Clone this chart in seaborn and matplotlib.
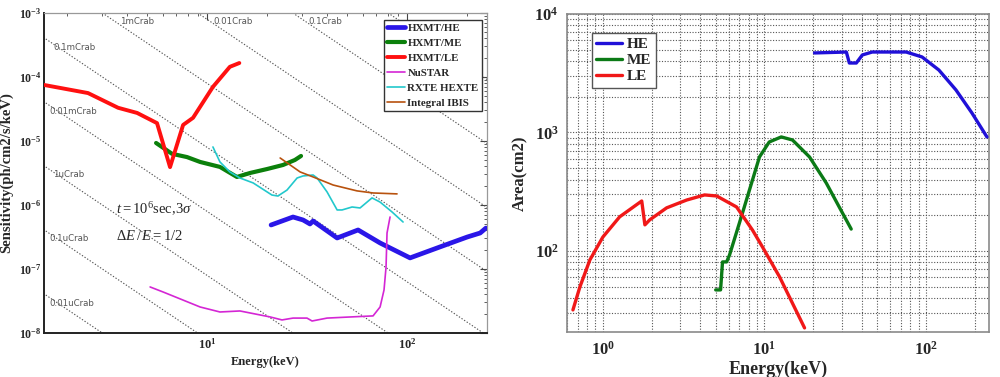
import numpy as np
import pandas as pd
import matplotlib
matplotlib.use("Agg")
import matplotlib.pyplot as plt
from matplotlib.ticker import LogLocator, FuncFormatter, NullFormatter
import seaborn as sns

sns.set_style("white")
plt.rcParams['font.family'] = ['Liberation Serif', 'DejaVu Serif']
plt.rcParams['mathtext.fontset'] = 'custom'
plt.rcParams['mathtext.rm'] = 'Liberation Serif'
plt.rcParams['mathtext.it'] = 'Liberation Serif:italic'
plt.rcParams['mathtext.bf'] = 'Liberation Serif:bold'

# ---------------- Left panel: sensitivity ----------------
le_sens_E = [1.53, 2.54, 3.59, 4.47, 5.62, 6.53, 7.59, 8.51, 10.7, 13.0, 14.5]
le_sens_F = [7.5e-5, 5.6e-5, 3.3e-5, 2.74e-5, 1.9e-5, 3.9e-6, 1.78e-5, 2.3e-5, 7.0e-5, 1.44e-4, 1.65e-4]

me_sens_E = [5.56, 6.68, 7.94, 9.23, 11.6, 14.1, 16.4, 20.0, 24.0, 27.5, 29.5]
me_sens_F = [9.3e-6, 6.3e-6, 5.6e-6, 4.7e-6, 3.93e-6, 2.74e-6, 3.16e-6, 3.65e-6, 4.22e-6, 5.05e-6, 5.83e-6]

he_sens_E = [20.9, 26.9, 30.2, 32.7, 33.9, 44.7, 56.9, 73.3, 103.5, 146, 200, 232, 248]
he_sens_F = [4.87e-7, 6.49e-7, 5.83e-7, 5.05e-7, 5.62e-7, 3.05e-7, 4.07e-7, 2.55e-7, 1.49e-7,
             2.21e-7, 3.16e-7, 3.65e-7, 4.36e-7]

nustar_E = [5.19, 6.03, 9.23, 11.6, 14.6, 20.7, 23.7, 26.9, 31.6, 33.5, 39.8, 51.9, 67.6,
            73.3, 76.7, 78.5, 79.4, 82.2]
nustar_F = [5.24e-8, 4.37e-8, 2.55e-8, 2.13e-8, 2.21e-8, 1.78e-8, 1.6e-8, 1.71e-8, 1.71e-8,
            1.54e-8, 1.71e-8, 1.78e-8, 1.85e-8, 2.55e-8, 4.7e-8, 1.07e-7, 3.65e-7, 6.49e-7]

hexte_E = [10.7, 11.6, 13.0, 14.6, 17.0, 21.1, 22.6, 25.1, 28.2, 30.2, 33.9, 35.5, 39.8,
           44.7, 47.3, 53.1, 58.2, 66.8, 73.3, 84.1, 95.5]
hexte_F = [8.06e-6, 4.7e-6, 3.28e-6, 2.64e-6, 2.21e-6, 1.43e-6, 1.38e-6, 1.71e-6, 2.64e-6,
           2.84e-6, 2.94e-6, 2.64e-6, 1.6e-6, 8.36e-7, 8.36e-7, 9.3e-7, 8.98e-7, 1.29e-6,
           1.11e-6, 7.78e-7, 5.42e-7]

ibis_E = [23.2, 29.2, 33.9, 42.7, 56.2, 67.6, 89.1]
ibis_F = [5.42e-6, 3.28e-6, 2.74e-6, 2.05e-6, 1.66e-6, 1.54e-6, 1.49e-6]

crab_levels = [1, 0.1, 0.01, 1e-3, 1e-4, 1e-5, 1e-6, 1e-7, 1e-8]
crab_labels = ["1mCrab", "0.01Crab", "0.1Crab", "0.1mCrab", "0.01mCrab", "1uCrab",
               "0.1uCrab", "0.01uCrab"]
crab_label_E = [3.67, 10.7, 32.0, 1.70, 1.62, 1.70, 1.62, 1.62]
crab_label_F = [6.8e-4, 6.8e-4, 6.8e-4, 2.6e-4, 2.6e-5, 2.75e-6, 2.75e-7, 2.6e-8]

# ---------------- Right panel: effective area ----------------
he_area_E = [20.4, 32.1, 33.5, 37.0, 40.3, 46.4, 75.3, 94.4, 120, 153, 192, 238]
he_area_A = [4690, 4775, 3857, 3857, 4508, 4775, 4775, 4337, 3364, 2285, 1462, 916]

me_area_E = [4.99, 5.35, 5.50, 5.83, 6.08, 7.31, 8.43, 9.31, 10.7, 12.7, 14.9, 19.0, 24.1, 29.0, 34.4]
me_area_A = [46.9, 46.9, 80.8, 80.8, 92.5, 209, 397, 621, 831, 917, 864, 621, 375, 235, 153]

le_area_E = [0.653, 0.721, 0.831, 1.0, 1.27, 1.74, 1.82, 1.95, 2.48, 3.30, 4.26, 5.06, 6.72,
             8.43, 9.72, 12.4, 17.7]
le_area_A = [31.8, 49.7, 83.9, 131, 194, 264, 166, 183, 231, 269, 297, 291, 235, 150, 108, 60.4, 22.4]

fig = plt.figure(figsize=(10, 3.77), dpi=100)
axL = fig.add_axes([0.044, 0.1167, 0.443, 0.849])
axR = fig.add_axes([0.567, 0.1194, 0.422, 0.8435])


def pow_fmt(v, p):
    if v <= 0:
        return ""
    e = int(round(np.log10(v)))
    return r'$\mathbf{10^{%d}}$' % e


# crab reference lines
Egrid = np.logspace(np.log10(1.0), np.log10(400), 60)
for k in crab_levels:
    dfc = pd.DataFrame({"E": Egrid, "F": 10.0 * k * Egrid ** -2.1})
    sns.lineplot(data=dfc, x="E", y="F", ax=axL, color="#555555", lw=0.8,
                 linestyle=(0, (1.2, 1.6)), estimator=None, sort=False, legend=False, zorder=1)
for lab, xe, yf in zip(crab_labels, crab_label_E, crab_label_F):
    axL.text(xe, yf, lab, fontsize=6.2, color="#555555", family="DejaVu Sans", zorder=2)

series = [
    ("HXMT/HE", he_sens_E, he_sens_F, "#2a16e8", 3.4),
    ("HXMT/ME", me_sens_E, me_sens_F, "#0b800b", 3.0),
    ("HXMT/LE", le_sens_E, le_sens_F, "#ff1010", 2.8),
    ("NuSTAR", nustar_E, nustar_F, "#d426d4", 1.2),
    ("RXTE HEXTE", hexte_E, hexte_F, "#22c8cc", 1.2),
    ("Integral IBIS", ibis_E, ibis_F, "#b8520e", 1.2),
]
for name, xs, ys, col, lw in series:
    df = pd.DataFrame({"E": xs, "F": ys})
    sns.lineplot(data=df, x="E", y="F", ax=axL, color=col, lw=lw, label=name,
                 estimator=None, sort=False, zorder=3)

axL.set_xscale("log")
axL.set_yscale("log")
axL.set_xlim(1.53, 251)
axL.set_ylim(1e-8, 1e-3)
axL.xaxis.set_major_locator(LogLocator(base=10, numticks=10))
axL.yaxis.set_major_locator(LogLocator(base=10, numticks=10))
axL.xaxis.set_minor_locator(LogLocator(base=10, subs=np.arange(2, 10), numticks=20))
axL.yaxis.set_minor_locator(LogLocator(base=10, subs=np.arange(2, 10), numticks=20))
axL.xaxis.set_major_formatter(FuncFormatter(pow_fmt))
axL.yaxis.set_major_formatter(FuncFormatter(pow_fmt))
axL.xaxis.set_minor_formatter(NullFormatter())
axL.yaxis.set_minor_formatter(NullFormatter())
axL.tick_params(which="both", direction="in", top=True, right=True, labelsize=9, pad=3,
                color="#444444")
axL.tick_params(axis="y", labelsize=8.5, pad=2)
axL.tick_params(which="major", length=5, width=0.8)
axL.tick_params(which="minor", length=2.5, width=0.6)
for side in ["left", "bottom"]:
    axL.spines[side].set_color("#222222")
    axL.spines[side].set_linewidth(1.4)
for side in ["top", "right"]:
    axL.spines[side].set_color("#999999")
    axL.spines[side].set_linewidth(0.9)
axL.set_xlabel("Energy(keV)", fontsize=9, fontweight="bold", labelpad=3)
axL.set_ylabel("Sensitivity(ph/cm2/s/keV)", fontsize=10.5, fontweight="bold")
axL.yaxis.set_label_coords(-0.07, 0.5)
axL.text(3.5, 7.3e-7, r'$t = 10^{6}\mathrm{sec}{,}3\sigma$', fontsize=10.5, zorder=4)
axL.text(3.5, 2.8e-7, r'$\Delta E\,/\,E = 1/2$', fontsize=10.5, zorder=4)
legL = axL.legend(loc="upper right", bbox_to_anchor=(0.988, 0.978),
                  prop={"weight": "bold", "size": 7.8}, frameon=True, fancybox=False,
                  framealpha=1, edgecolor="#333333", handlelength=1.6, borderpad=0.3,
                  labelspacing=0.5, handletextpad=0.25, borderaxespad=0.0)
legL.get_frame().set_linewidth(1.0)
legL.set_zorder(10)

# ---------------- Right panel ----------------
area_series = [
    ("HE", he_area_E, he_area_A, "#2010d8"),
    ("ME", me_area_E, me_area_A, "#0b7a16"),
    ("LE", le_area_E, le_area_A, "#f01818"),
]
for name, xs, ys, col in area_series:
    df = pd.DataFrame({"E": xs, "A": ys})
    sns.lineplot(data=df, x="E", y="A", ax=axR, color=col, lw=2.4, label=name,
                 estimator=None, sort=False, zorder=3)

axR.set_xscale("log")
axR.set_yscale("log")
axR.set_xlim(0.6, 245)
axR.set_ylim(20.7, 1e4)
axR.xaxis.set_major_locator(LogLocator(base=10, numticks=10))
axR.yaxis.set_major_locator(LogLocator(base=10, numticks=10))
axR.xaxis.set_minor_locator(LogLocator(base=10, subs=np.arange(2, 10), numticks=20))
axR.yaxis.set_minor_locator(LogLocator(base=10, subs=np.arange(2, 10), numticks=20))
axR.xaxis.set_major_formatter(FuncFormatter(pow_fmt))
axR.yaxis.set_major_formatter(FuncFormatter(pow_fmt))
axR.xaxis.set_minor_formatter(NullFormatter())
axR.yaxis.set_minor_formatter(NullFormatter())
axR.grid(True, which="both", linestyle=(0, (1.0, 1.5)), color="#555555", linewidth=0.8)
axR.tick_params(which="both", direction="in", length=0, labelsize=12, pad=6)
for side in axR.spines:
    axR.spines[side].set_color("#8a8a8a")
    axR.spines[side].set_linewidth(1.2)
axR.set_xlabel("Energy(keV)", fontsize=13, fontweight="bold", labelpad=2)
axR.set_ylabel("Area(cm2)", fontsize=12, fontweight="bold", labelpad=4)
legR = axR.legend(loc="upper left", bbox_to_anchor=(0.059, 0.94), prop={"weight": "bold", "size": 11},
                  frameon=True, fancybox=False, framealpha=1, edgecolor="#555555",
                  handlelength=1.7, borderpad=0.3, labelspacing=0.15, handletextpad=0.3,
                  borderaxespad=0.0)
legR.get_frame().set_linewidth(1.0)

fig.savefig("out.png", dpi=100)
